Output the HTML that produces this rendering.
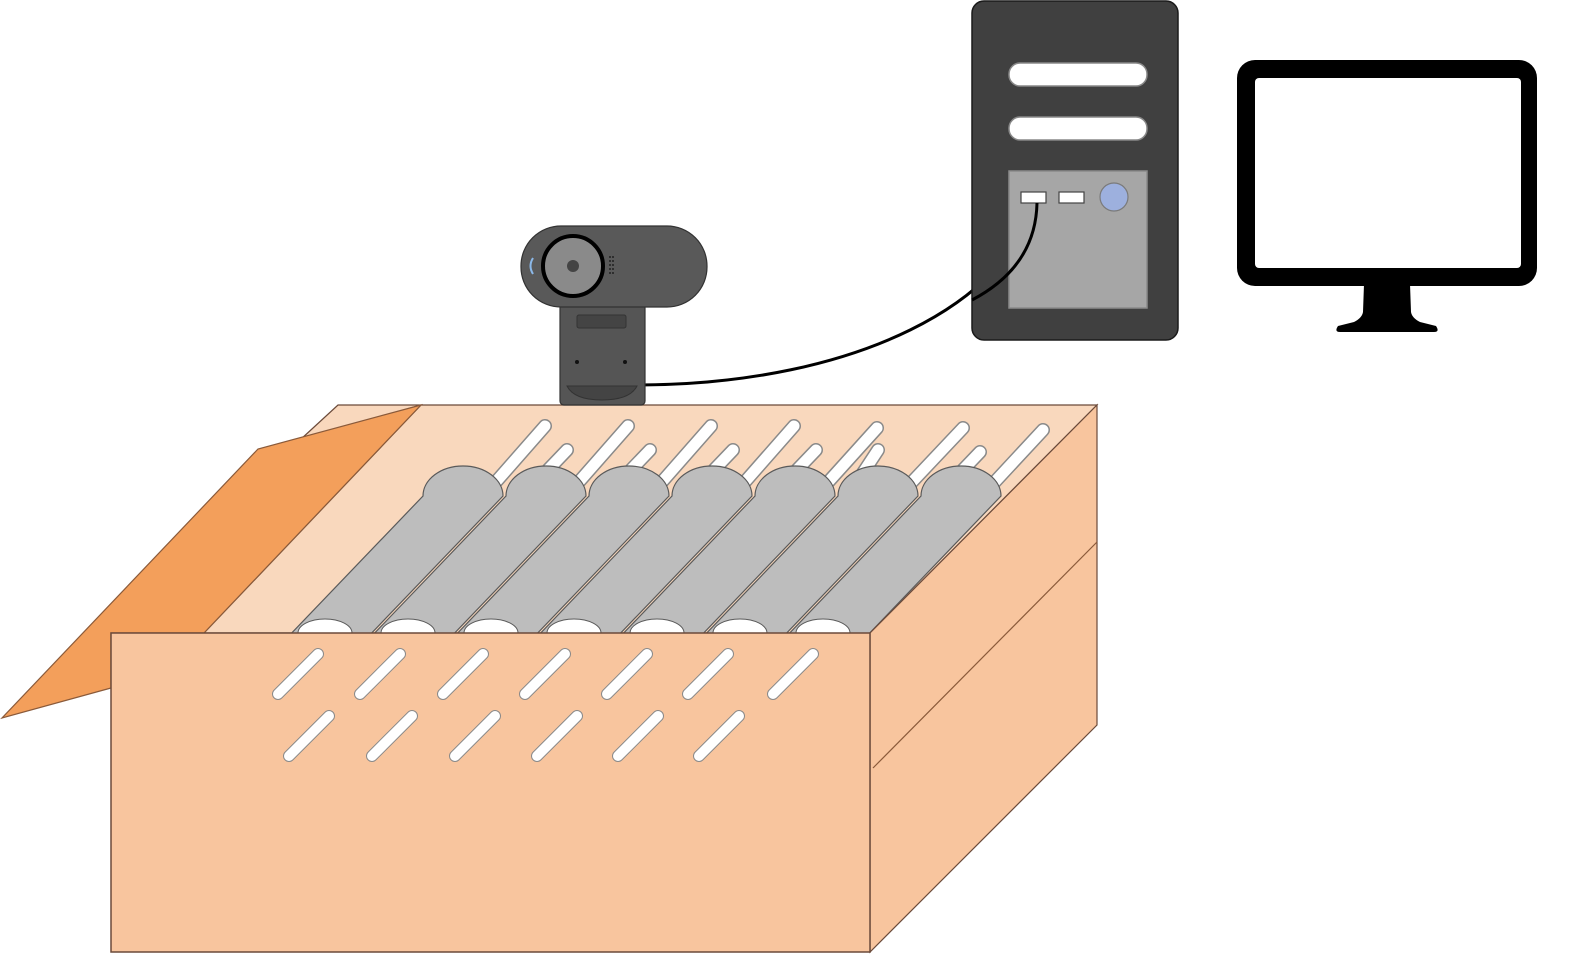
<!DOCTYPE html>
<html><head><meta charset="utf-8"><style>html,body{margin:0;padding:0;background:#fff}svg{display:block}</style></head>
<body>
<svg width="1574" height="958" viewBox="0 0 1574 958" xmlns="http://www.w3.org/2000/svg">
<defs>
<clipPath id="inner"><polygon points="204,633 421,405 1097,405 870,633"/></clipPath>
</defs>
<!-- light strip behind flap -->
<polygon points="338,405 421,405 300,440" fill="#f9d8bd" stroke="#6b4a3a" stroke-width="1.2"/>
<!-- interior -->
<polygon points="204,633 421,405 1097,405 870,633" fill="#f9d8bd" stroke="#6b4a3a" stroke-width="1.2"/>
<g clip-path="url(#inner)">
  <g stroke-linecap="round">
    <g id="rods">
    </g>
  </g>
</g>
<g clip-path="url(#inner)" stroke-linecap="round">
  <!-- back rods -->
  <g stroke="#8a8a8a" stroke-width="14">
    <line x1="480" y1="500" x2="545" y2="426"/><line x1="500" y1="520" x2="567" y2="450"/>
    <line x1="563" y1="500" x2="628" y2="426"/><line x1="583" y1="520" x2="650" y2="450"/>
    <line x1="646" y1="500" x2="711" y2="426"/><line x1="666" y1="520" x2="733" y2="450"/>
    <line x1="729" y1="500" x2="794" y2="426"/><line x1="749" y1="520" x2="816" y2="450"/>
    <line x1="812" y1="500" x2="877" y2="428"/><line x1="832" y1="520" x2="878" y2="450"/>
    <line x1="895" y1="500" x2="963" y2="428"/><line x1="915" y1="520" x2="980" y2="452"/>
    <line x1="978" y1="500" x2="1043" y2="430"/>
  </g>
  <g stroke="#ffffff" stroke-width="11">
    <line x1="480" y1="500" x2="545" y2="426"/><line x1="500" y1="520" x2="567" y2="450"/>
    <line x1="563" y1="500" x2="628" y2="426"/><line x1="583" y1="520" x2="650" y2="450"/>
    <line x1="646" y1="500" x2="711" y2="426"/><line x1="666" y1="520" x2="733" y2="450"/>
    <line x1="729" y1="500" x2="794" y2="426"/><line x1="749" y1="520" x2="816" y2="450"/>
    <line x1="812" y1="500" x2="877" y2="428"/><line x1="832" y1="520" x2="878" y2="450"/>
    <line x1="895" y1="500" x2="963" y2="428"/><line x1="915" y1="520" x2="980" y2="452"/>
    <line x1="978" y1="500" x2="1043" y2="430"/>
  </g>
  <!-- rollers -->
  <g fill="#bdbdbd" stroke="#5a5a5a" stroke-width="1.2">
    <path d="M285,640 L423,496 A40,30 0 0 1 503,496 L365,640 Z"/>
    <path d="M368,640 L506,496 A40,30 0 0 1 586,496 L448,640 Z"/>
    <path d="M451,640 L589,496 A40,30 0 0 1 669,496 L531,640 Z"/>
    <path d="M534,640 L672,496 A40,30 0 0 1 752,496 L614,640 Z"/>
    <path d="M617,640 L755,496 A40,30 0 0 1 835,496 L697,640 Z"/>
    <path d="M700,640 L838,496 A40,30 0 0 1 918,496 L780,640 Z"/>
    <path d="M783,640 L921,496 A40,30 0 0 1 1001,496 L863,640 Z"/>
  </g>
  <g fill="#ffffff" stroke="#5a5a5a" stroke-width="1">
    <ellipse cx="325" cy="633" rx="27" ry="14"/>
    <ellipse cx="408" cy="633" rx="27" ry="14"/>
    <ellipse cx="491" cy="633" rx="27" ry="14"/>
    <ellipse cx="574" cy="633" rx="27" ry="14"/>
    <ellipse cx="657" cy="633" rx="27" ry="14"/>
    <ellipse cx="740" cy="633" rx="27" ry="14"/>
    <ellipse cx="823" cy="633" rx="27" ry="14"/>
  </g>
</g>
<!-- flap -->
<polygon points="421,405 258,449 2,718 111,688 111,633 204,633" fill="#f39f5b" stroke="#8a5a3a" stroke-width="1.2"/>
<!-- right face -->
<polygon points="870,633 1097,405 1097,725 870,952" fill="#f8c59e" stroke="#6b4a3a" stroke-width="1.2"/>
<line x1="873" y1="768" x2="1097" y2="542" stroke="#8a5a3a" stroke-width="1.2"/>
<!-- front face -->
<rect x="111" y="633" width="759" height="319" fill="#f8c59e" stroke="#6b4a3a" stroke-width="1.5"/>
<!-- front holes -->
<g stroke-linecap="round">
  <g stroke="#8a8a8a" stroke-width="12">
    <line x1="278" y1="694" x2="318" y2="654"/><line x1="360" y1="694" x2="400" y2="654"/><line x1="443" y1="694" x2="483" y2="654"/><line x1="525" y1="694" x2="565" y2="654"/><line x1="607" y1="694" x2="647" y2="654"/><line x1="688" y1="694" x2="728" y2="654"/><line x1="773" y1="694" x2="813" y2="654"/>
    <line x1="289" y1="756" x2="329" y2="716"/><line x1="372" y1="756" x2="412" y2="716"/><line x1="455" y1="756" x2="495" y2="716"/><line x1="537" y1="756" x2="577" y2="716"/><line x1="618" y1="756" x2="658" y2="716"/><line x1="699" y1="756" x2="739" y2="716"/>
  </g>
  <g stroke="#ffffff" stroke-width="10">
    <line x1="278" y1="694" x2="318" y2="654"/><line x1="360" y1="694" x2="400" y2="654"/><line x1="443" y1="694" x2="483" y2="654"/><line x1="525" y1="694" x2="565" y2="654"/><line x1="607" y1="694" x2="647" y2="654"/><line x1="688" y1="694" x2="728" y2="654"/><line x1="773" y1="694" x2="813" y2="654"/>
    <line x1="289" y1="756" x2="329" y2="716"/><line x1="372" y1="756" x2="412" y2="716"/><line x1="455" y1="756" x2="495" y2="716"/><line x1="537" y1="756" x2="577" y2="716"/><line x1="618" y1="756" x2="658" y2="716"/><line x1="699" y1="756" x2="739" y2="716"/>
  </g>
</g>
<!-- cable -->
<path d="M640,385 C860,384 1010,300 1033,202" fill="none" stroke="#000" stroke-width="3"/>
<!-- webcam -->
<rect x="560" y="300" width="85" height="105" rx="4" fill="#555" stroke="#333" stroke-width="1.2"/>
<rect x="577" y="315" width="49" height="13" rx="2" fill="#444" stroke="#333"/>
<circle cx="577" cy="362" r="2" fill="#111"/><circle cx="625" cy="362" r="2" fill="#111"/>
<path d="M567,386 L637,386 Q630,400 602,400 Q574,400 567,386 Z" fill="#444" stroke="#333"/>
<rect x="521" y="226" width="186" height="81" rx="40" fill="#595959" stroke="#333" stroke-width="1.2"/>
<circle cx="573" cy="266" r="30" fill="#8a8a8a" stroke="#000" stroke-width="4"/>
<circle cx="573" cy="266" r="6" fill="#444"/>
<path d="M533,258 Q528,266 533,274" fill="none" stroke="#8bb8e8" stroke-width="2"/>
<g fill="#222"><circle cx="610" cy="257" r="1"/><circle cx="613" cy="257" r="1"/><circle cx="610" cy="261" r="1"/><circle cx="613" cy="261" r="1"/><circle cx="610" cy="265" r="1"/><circle cx="613" cy="265" r="1"/><circle cx="610" cy="269" r="1"/><circle cx="613" cy="269" r="1"/><circle cx="610" cy="273" r="1"/><circle cx="613" cy="273" r="1"/></g>
<!-- PC tower -->
<rect x="972" y="1" width="206" height="339" rx="12" fill="#404040" stroke="#1a1a1a" stroke-width="1.5"/>
<rect x="1009" y="63" width="138" height="23" rx="11" fill="#fff" stroke="#888" stroke-width="1.5"/>
<rect x="1009" y="117" width="138" height="23" rx="11" fill="#fff" stroke="#888" stroke-width="1.5"/>
<rect x="1009" y="171" width="138" height="137" fill="#a6a6a6" stroke="#8a8a8a" stroke-width="1.5"/>
<rect x="1021" y="192" width="25" height="11" fill="#fff" stroke="#444" stroke-width="1.2"/>
<rect x="1059" y="192" width="25" height="11" fill="#fff" stroke="#444" stroke-width="1.2"/>
<circle cx="1114" cy="197" r="14" fill="#9db0de" stroke="#7a7a7a" stroke-width="1.2"/>
<path d="M1037,203 C1036,250 1010,280 972,300" fill="none" stroke="#000" stroke-width="3"/>
<!-- monitor -->
<rect x="1237" y="60" width="300" height="226" rx="18" fill="#000"/>
<rect x="1255" y="78" width="266" height="190" rx="4" fill="#fff"/>
<path d="M1364,284 L1410,284 L1411,312 Q1412,318 1420,322 L1436,326 Q1440,332 1434,332 L1340,332 Q1334,332 1338,326 L1354,322 Q1362,318 1363,312 Z" fill="#000"/>
</svg>
</body></html>
